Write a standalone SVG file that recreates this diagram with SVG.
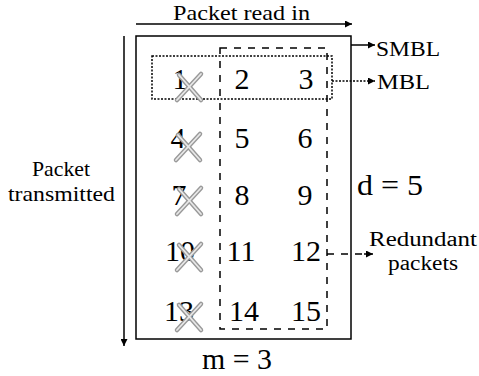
<svg xmlns="http://www.w3.org/2000/svg" width="479" height="376" viewBox="0 0 479 376">
<style>
text{font-family:"Liberation Serif",Tinos,"Nimbus Roman","Times New Roman",Times,"Noto Serif","DejaVu Serif",serif;fill:#000}
.num{font-size:30px;text-anchor:middle}
.lbl{font-size:22px}
.sm{font-size:20px}
.big{font-size:29px}
.solid{stroke:#000;stroke-width:1.5;fill:none}
.dash{stroke:#000;stroke-width:1.5;fill:none;stroke-dasharray:7 7}
.dot{stroke:#000;stroke-width:1.5;fill:none;stroke-dasharray:2 1.5}
.xo{stroke:#999;stroke-width:4.5;stroke-linecap:round}
.xi{stroke:#e8e8e8;stroke-width:1.8;stroke-linecap:round}
</style>
<defs>
<marker id="ah" viewBox="0 0 10 10" refX="10" refY="5" markerWidth="9" markerHeight="7" markerUnits="userSpaceOnUse" orient="auto">
<path d="M0,0 L10,5 L0,10 Z" fill="#000"/>
</marker>
<g id="xmark">
<line class="xo" x1="-12" y1="13" x2="12" y2="-13"/>
<line class="xo" x1="-10" y1="-12" x2="12" y2="13"/>
<line class="xi" x1="-12" y1="13" x2="12" y2="-13"/>
<line class="xi" x1="-10" y1="-12" x2="12" y2="13"/>
</g>
</defs>
<rect width="479" height="376" fill="#fff"/>

<g id="matrix">
<rect class="solid" x="136" y="36" width="215" height="303"/>
</g>

<g id="smbl-box">
<rect class="dash" x="220" y="48" width="107" height="281"/>
</g>
<g id="mbl-box">
<rect class="dot" x="152" y="56" width="180" height="43"/>
</g>

<g id="connectors">
<line class="solid" x1="136" y1="24" x2="352" y2="24" marker-end="url(#ah)"/>
<line class="solid" x1="124" y1="36" x2="124" y2="346" marker-end="url(#ah)"/>
<line class="solid" x1="351" y1="45" x2="375" y2="45" marker-end="url(#ah)"/>
<line class="dot" x1="332" y1="81" x2="375" y2="81" marker-end="url(#ah)"/>
<line class="dash" x1="327" y1="254" x2="366" y2="254"/>
<line class="solid" x1="364" y1="254" x2="373" y2="254" marker-end="url(#ah)"/>
</g>

<g id="numbers">
<text class="num" x="180" y="89">1</text>
<text class="num" x="242" y="89">2</text>
<text class="num" x="306" y="89">3</text>
<text class="num" x="178" y="148">4</text>
<text class="num" x="242" y="148">5</text>
<text class="num" x="305" y="148">6</text>
<text class="num" x="179" y="205">7</text>
<text class="num" x="242" y="205">8</text>
<text class="num" x="305" y="205">9</text>
<text class="num" x="180" y="261">10</text>
<text class="num" x="241" y="261">11</text>
<text class="num" x="306" y="261">12</text>
<text class="num" x="179" y="321">13</text>
<text class="num" x="244" y="321">14</text>
<text class="num" x="306" y="321">15</text>
</g>

<g id="crosses">
<use href="#xmark" x="189" y="87"/>
<use href="#xmark" x="188" y="147"/>
<use href="#xmark" x="189" y="201"/>
<use href="#xmark" x="189" y="257"/>
<use href="#xmark" x="189" y="317"/>
</g>

<g id="labels">
<text class="lbl" x="173" y="20" textLength="137" lengthAdjust="spacingAndGlyphs">Packet read in</text>
<text class="lbl" x="32" y="176" textLength="58" lengthAdjust="spacingAndGlyphs">Packet</text>
<text class="lbl" x="8" y="201" textLength="107" lengthAdjust="spacingAndGlyphs">transmitted</text>
<text class="lbl" x="376" y="56" textLength="64" lengthAdjust="spacingAndGlyphs">SMBL</text>
<text class="lbl" x="377" y="89" textLength="53" lengthAdjust="spacingAndGlyphs">MBL</text>
<text class="big" x="357" y="195" textLength="66" lengthAdjust="spacingAndGlyphs">d = 5</text>
<text class="sm" x="369" y="246" textLength="108" lengthAdjust="spacingAndGlyphs">Redundant</text>
<text class="sm" x="388" y="270" textLength="70" lengthAdjust="spacingAndGlyphs">packets</text>
<text class="big" x="202" y="369" textLength="70" lengthAdjust="spacingAndGlyphs">m = 3</text>
</g>
</svg>
